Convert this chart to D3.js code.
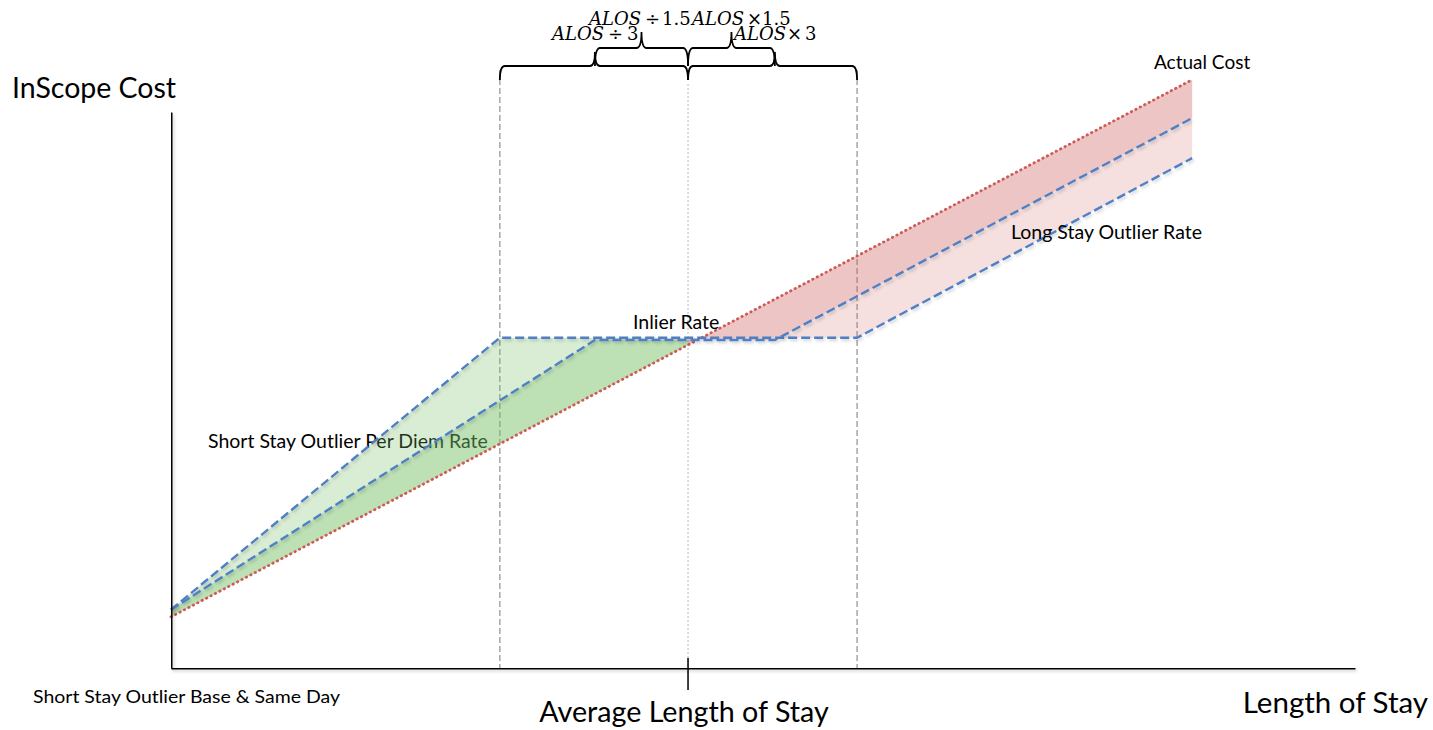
<!DOCTYPE html>
<html>
<head>
<meta charset="utf-8">
<script src="https://cdn.jsdelivr.net/npm/d3@7"></script>
<style>
  body { margin: 0; background: #fff; }
  svg { display: block; }
  text { font-family: Lato, "Open Sans", sans-serif; fill: #000; }
  .math { font-family: "DejaVu Serif", "Liberation Serif", serif; }
</style>
</head>
<body>
<svg width="1433" height="730"></svg>
<script>
// length of stay thresholds (ALOS = 10 units): ALOS/3, ALOS/1.5, ALOS, ALOS*1.5, ALOS*3
const thresholds = [6.36, 8.2, 10, 11.68, 13.27];
const thresholdNames = ["ALOS ÷ 3", "ALOS ÷ 1.5", "ALOS", "ALOS ×1.5", "ALOS × 3"];

// [length of stay, cost]
const actualCost = [[0, 0.92], [19.75, 10.58]];
const rateA = [[0, 1.05], [6.36, 5.94], [13.27, 5.94], [19.75, 9.17]];
const rateB = [[0, 1.05], [8.2, 5.9], [11.68, 5.9], [19.75, 9.89]];

const ALOS = 10;
const losMax = 22.9, costMax = 10;

function drawChart(){
    const svg = d3.select("svg");

    const x = d3.scaleLinear().domain([0, losMax]).range([171, 1355]);
    const y = d3.scaleLinear().domain([0, costMax]).range([668, 112]);

    const defs = svg.append("defs");
    const f = defs.append("filter").attr("id", "shadow")
        .attr("filterUnits", "userSpaceOnUse")
        .attr("x", 0).attr("y", 0).attr("width", 1433).attr("height", 730);
    f.append("feDropShadow").attr("dx", 1.5).attr("dy", 2).attr("stdDeviation", 1.5)
        .attr("flood-color", "#000").attr("flood-opacity", 0.18);

    const line = d3.line().x(d => x(d[0])).y(d => y(d[1]));

    const costAt = v => {
        const [a, b] = actualCost;
        return a[1] + (b[1] - a[1]) * (v - a[0]) / (b[0] - a[0]);
    };

    // label sits under the green fill in the original
    svg.append("text")
        .attr("x", 208).attr("y", 448)
        .attr("font-size", 19.5)
        .text("Short Stay Outlier Per Diem Rate");

    // reference verticals
    [thresholds[0], thresholds[4]].forEach(t => {
        svg.append("line")
            .attr("x1", x(t)).attr("x2", x(t))
            .attr("y1", 70).attr("y2", y(0))
            .attr("stroke", "#a6a6a6").attr("stroke-width", 1.5)
            .attr("stroke-dasharray", "6,3");
    });
    svg.append("line")
        .attr("x1", x(ALOS)).attr("x2", x(ALOS))
        .attr("y1", 84).attr("y2", y(0))
        .attr("stroke", "#b8b8b8").attr("stroke-width", 1)
        .attr("stroke-dasharray", "2,2");

    // short stay fills (green), long stay fills (pink)
    [rateA, rateB].forEach(r => {
        const left = r.filter(d => d[0] <= ALOS);
        left.push([ALOS, left[left.length - 1][1]]);
        const poly = left.concat([[ALOS, costAt(ALOS)], [0, costAt(0)]]);
        svg.append("path")
            .attr("d", line(poly) + "Z")
            .attr("fill", "rgb(120,190,100)").attr("fill-opacity", 0.28);

        const right = [[ALOS, r.find(d => d[0] >= ALOS)[1]]].concat(r.filter(d => d[0] > ALOS));
        const end = right[right.length - 1][0];
        const poly2 = [[ALOS, costAt(ALOS)], [end, costAt(end)]].concat(right.slice().reverse());
        svg.append("path")
            .attr("d", line(poly2) + "Z")
            .attr("fill", "rgb(205,95,95)").attr("fill-opacity", 0.2);
    });

    // actual cost
    svg.append("path")
        .attr("d", line(actualCost))
        .attr("fill", "none")
        .attr("stroke", "#cd5c57").attr("stroke-width", 2.8)
        .attr("stroke-linecap", "round")
        .attr("stroke-dasharray", "0.5,4.5");

    // rate lines
    [rateA, rateB].forEach(r => {
        svg.append("path")
            .attr("d", line(r))
            .attr("fill", "none").attr("filter", "url(#shadow)")
            .attr("stroke", "#4f7fc4").attr("stroke-width", 2.4)
            .attr("stroke-dasharray", "9,4");
    });

    // axes
    const xAxis = svg.append("g")
        .attr("transform", `translate(0,${y(0)})`)
        .attr("filter", "url(#shadow)")
        .call(d3.axisBottom(x).tickValues([]).tickSizeOuter(0));
    xAxis.select(".domain").attr("stroke", "#000").attr("stroke-width", 2);

    const yAxis = svg.append("g")
        .attr("transform", `translate(${x(0)},0)`)
        .attr("filter", "url(#shadow)")
        .call(d3.axisLeft(y).tickValues([]).tickSizeOuter(0));
    yAxis.select(".domain").attr("stroke", "#000").attr("stroke-width", 2);

    svg.append("line")
        .attr("x1", x(ALOS)).attr("x2", x(ALOS))
        .attr("y1", y(0) - 10).attr("y2", y(0) + 22)
        .attr("stroke", "#000").attr("stroke-width", 1.5);

    // braces
    function brace(x1, x2, xm, yEnd, yLine, yTip){
        const r = 5;
        return `M${x1},${yEnd} Q${x1},${yLine} ${x1 + r},${yLine} L${xm - r},${yLine} ` +
            `Q${xm},${yLine} ${xm},${yTip} Q${xm},${yLine} ${xm + r},${yLine} ` +
            `L${x2 - r},${yLine} Q${x2},${yLine} ${x2},${yEnd}`;
    }
    const bx = thresholds.map(x);
    const braces = [
        [bx[0], bx[2], bx[1], 80, 66, 52],
        [bx[2], bx[4], bx[3], 80, 66, 52],
        [bx[1], bx[2], (bx[1] + bx[2]) / 2, 66, 48, 32],
        [bx[2], bx[3], (bx[2] + bx[3]) / 2, 66, 48, 32]
    ];
    braces.forEach(b => {
        svg.append("path")
            .attr("d", brace(...b))
            .attr("fill", "none").attr("stroke", "#000").attr("stroke-width", 1.8);
    });

    // math labels: pieces placed at x positions of ALOS, operator, number
    const mathLabels = [
        { t: thresholdNames[1], y: 25, xs: [589, 645, 662] },
        { t: thresholdNames[3], y: 25, xs: [692, 747, 762] },
        { t: thresholdNames[0], y: 40, xs: [552, 608, 627] },
        { t: thresholdNames[4], y: 40, xs: [734, 787, 805] }
    ];
    mathLabels.forEach(m => {
        const parts = m.t.replace(/\s+/g, "").match(/^(ALOS)(.)(.+)$/).slice(1);
        const txt = svg.append("text").attr("class", "math")
            .attr("y", m.y).attr("font-size", 18);
        parts.forEach((p, i) => {
            txt.append("tspan")
                .attr("x", m.xs[i])
                .attr("font-style", i === 0 ? "italic" : "normal")
                .text(p);
        });
    });

    // text labels
    svg.append("text").attr("x", 12).attr("y", 98).attr("font-size", 28.5).text("InScope Cost");
    svg.append("text").attr("x", 1154).attr("y", 69).attr("font-size", 19).text("Actual Cost");
    svg.append("text").attr("x", 1011).attr("y", 239).attr("font-size", 19.5).text("Long Stay Outlier Rate");
    svg.append("text").attr("x", 633).attr("y", 329).attr("font-size", 19.5).text("Inlier Rate");
    svg.append("text").attr("x", 33).attr("y", 703).attr("font-size", 17)
        .attr("textLength", 307).attr("lengthAdjust", "spacingAndGlyphs")
        .text("Short Stay Outlier Base & Same Day");
    svg.append("text").attr("x", x(ALOS) - 4).attr("y", 722).attr("font-size", 28.7)
        .attr("text-anchor", "middle").text("Average Length of Stay");
    svg.append("text").attr("x", 1428).attr("y", 713).attr("font-size", 29.5)
        .attr("text-anchor", "end").text("Length of Stay");
}

drawChart();
</script>
</body>
</html>
